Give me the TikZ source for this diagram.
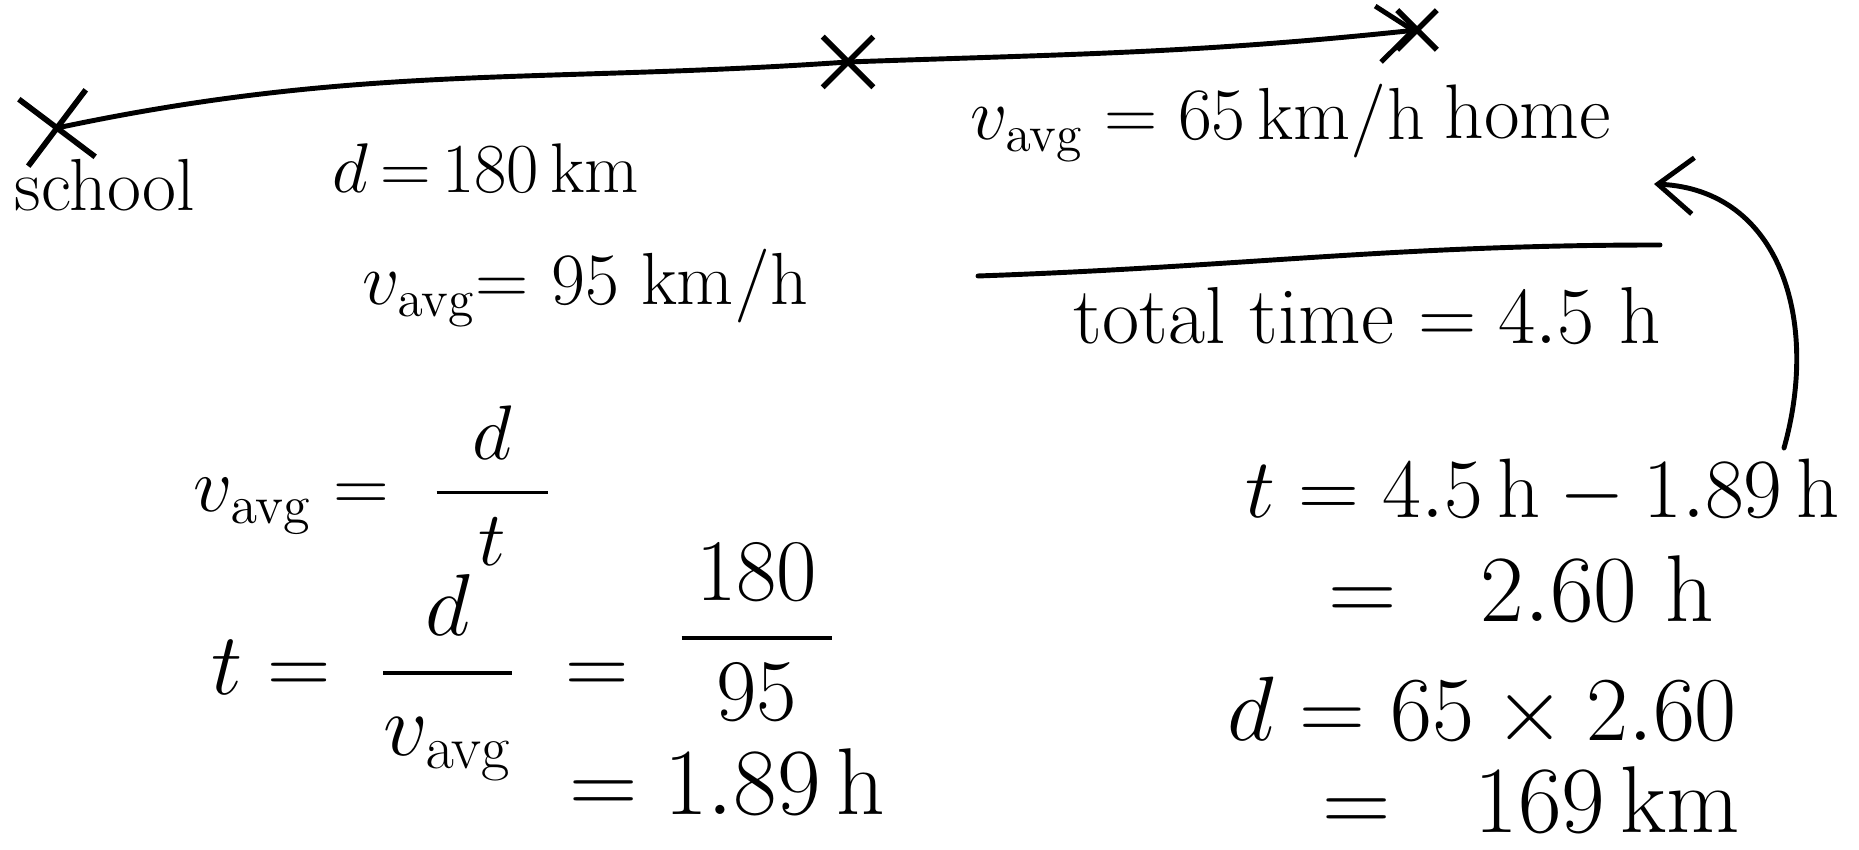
\documentclass[tikz,border=0pt]{standalone}
\usepackage{fix-cm}
\usepackage{amsmath}
\usepackage{tikz}
\usetikzlibrary{positioning,shapes.misc,arrows.meta}

\begin{document}
\begin{tikzpicture}[
        schrift/.style={inner sep=0pt, anchor=base west,
                        font=\fontsize{#1}{#1}\selectfont},
        kreuz/.style={cross out, draw, line width=1.6pt, inner sep=0pt,
                      minimum size=#1},
        strich/.style={line width=1.4pt, line cap=round},
        pfeil/.style={strich, -{Straight Barb[length=10pt, width=16pt]}}
    ]
        \useasboundingbox (0,0) rectangle (18.59,-8.5);

        \node[kreuz=0.62cm, rotate=8] (schule) at (0.57,-1.28) {};
        \node[kreuz=0.45cm] (mitte)  at (8.48,-0.62) {};
        \node[kreuz=0.34cm] (heim)   at (14.17,-0.30) {};
        \draw[strich] (schule.center) to[out=12, in=184] (mitte.center);
        \draw[pfeil] (mitte.center) to[out=2, in=186] (heim.center);

        \node[schrift=21] (lschule)  at (0.14,-2.11)  {school};
        \node[schrift=22] (lheim)    at (14.44,-1.39) {home};
        \node[schrift=20] (strecke1) at (3.32,-1.93)  {$d\,{=}\,180\,\mathrm{km}$};
        \node[schrift=21] (tempo1)   at (3.62,-3.05)  {$v_{\mathrm{avg}}{=}\ 95\ \mathrm{km/h}$};
        \node[schrift=21] (tempo2)   at (9.70,-1.40)  {$v_{\mathrm{avg}}= 65\,\mathrm{km/h}$};

        \coordinate (b1) at (9.78,-2.76);
        \coordinate (b2) at (16.60,-2.45);
        \draw[strich] (b1) to[out=2, in=180] (b2);
        \node[schrift=23] (gesamt) at (10.73,-3.44) {total time $= 4.5\ \mathrm{h}$};

        \node[schrift=22] (f1) at (1.93,-5.12) {$v_{\mathrm{avg}} = \;\dfrac{\ \,d\ \,}{t}$};
        \node[schrift=25] (f2) at (2.11,-6.95)
            {$t = \;\dfrac{\,d\,}{v_{\mathrm{avg}}} \;=\; \raisebox{0.35cm}{$\displaystyle\frac{\,180\,}{95}$}$};
        \node[schrift=27] (f3) at (5.69,-8.15) {$= 1.89\,\mathrm{h}$};

        \node[schrift=24] (r1) at (12.45,-5.18) {$t = 4.5\,\mathrm{h} - 1.89\,\mathrm{h}$};
        \node[schrift=27] (r2) at (13.28,-6.22) {$=\ \ 2.60\ \mathrm{h}$};
        \node[schrift=26] (r3) at (12.27,-7.41) {$d = 65\times 2.60$};
        \node[schrift=27] (r4) at (13.22,-8.33) {$=\ \ 169\,\mathrm{km}$};

        \coordinate (a1) at (17.84,-4.48);
        \coordinate (a2) at (16.54,-1.84);
        \draw[pfeil] (a1) .. controls (18.2,-3.2) and (17.8,-1.9) .. (a2);
    \end{tikzpicture}
\end{document}
